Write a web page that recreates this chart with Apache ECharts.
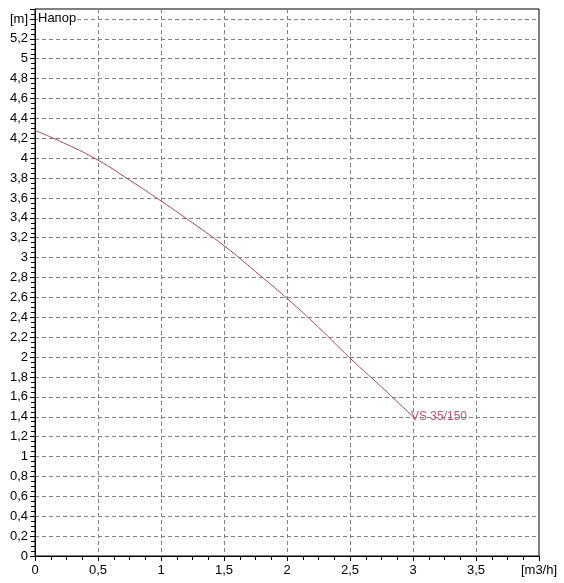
<!DOCTYPE html>
<html>
<head>
<meta charset="utf-8">
<script src="https://cdn.jsdelivr.net/npm/echarts@6/dist/echarts.min.js"></script>
<style>html,body{margin:0;padding:0;background:#fff;overflow:hidden}#c{width:564px;height:583px}</style>
</head>
<body>
<div id="c"></div>
<script>
// Data
const flow = [0, 0.25, 0.5, 0.75, 1, 1.25, 1.5, 1.75, 2, 2.25, 2.5, 2.75, 3];
const head = [4.28, 4.14, 3.98, 3.78, 3.57, 3.35, 3.12, 2.86, 2.59, 2.30, 1.99, 1.70, 1.40];
const seriesName = 'VS 35/150';
const xUnit = '[m3/h]';
const yUnit = '[m]';
const panelTitle = 'Напор';

const fmt = v => {
  const r = Math.round(v * 100) / 100;
  return String(r).replace('.', ',');
};

const chart = echarts.init(document.getElementById('c'), null, {renderer: 'canvas'});
const font = 'Liberation Sans';
chart.setOption({
  animation: false,
  backgroundColor: '#fff',
  grid: {left: 35, right: 25, top: 9, bottom: 27, show: true, borderColor: '#000', borderWidth: 1, backgroundColor: 'transparent'},
  xAxis: {
    type: 'value', min: 0, max: 4, interval: 0.5,
    axisLine: {show: true, onZero: false, lineStyle: {color: '#000', width: 1}},
    axisTick: {show: true, length: 5, lineStyle: {color: '#000'}},
    minorTick: {show: true, splitNumber: 4, length: 4, lineStyle: {color: '#000'}},
    splitLine: {show: true, lineStyle: {color: '#808080', type: [4, 3], width: 1}},
    axisLabel: {color: '#000', fontFamily: font, fontSize: 13, margin: 8, showMaxLabel: true,
      formatter: v => Math.abs(v - 4) < 1e-6 ? xUnit : fmt(v)}
  },
  yAxis: {
    type: 'value', min: 0, max: 5.5, interval: 0.2,
    axisLine: {show: true, onZero: false, lineStyle: {color: '#000', width: 1}},
    axisTick: {show: true, length: 5, lineStyle: {color: '#000'}},
    minorTick: {show: true, splitNumber: 4, length: 4, lineStyle: {color: '#000'}},
    splitLine: {show: true, lineStyle: {color: '#808080', type: [4, 3], width: 1}},
    axisLabel: {color: '#000', fontFamily: font, fontSize: 13, margin: 7, showMaxLabel: false,
      formatter: v => Math.abs(v - 5.4) < 1e-6 ? yUnit : (v > 5.41 ? '' : fmt(v))}
  },
  graphic: [{
    type: 'text', left: 38, top: 12, z: 100,
    style: {text: panelTitle, fill: '#000', font: '13px "Liberation Sans"', backgroundColor: '#fff', padding: [0, 1, 0, 0]}
  }],
  series: [{
    name: seriesName, type: 'line', smooth: true, symbol: 'none',
    data: flow.map((x, i) => [x, head[i]]),
    lineStyle: {color: '#a04a5c', width: 1},
    endLabel: {show: true, formatter: seriesName, color: '#c05a6c', fontFamily: font, fontSize: 12, distance: 0, offset: [-2, 0]}
  }]
});
</script>
</body>
</html>
